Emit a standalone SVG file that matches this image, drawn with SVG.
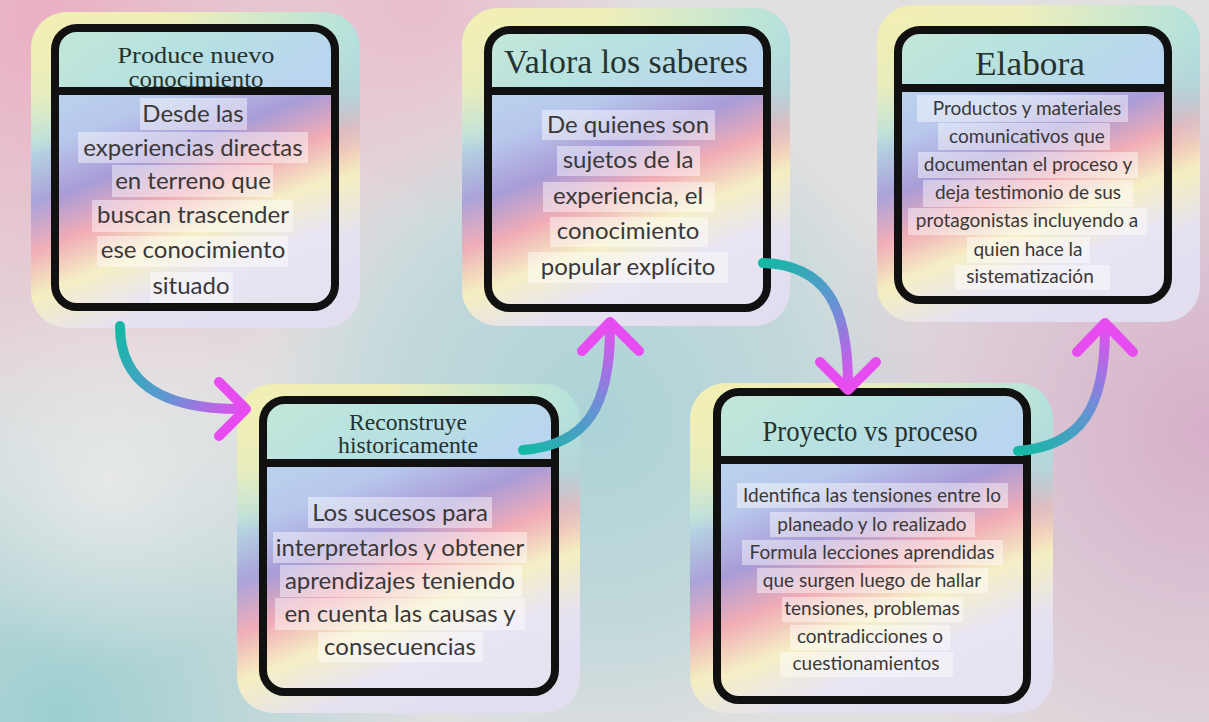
<svg xmlns="http://www.w3.org/2000/svg" width="1209" height="722" viewBox="0 0 1209 722">
<defs>
  <radialGradient id="bgPinkTL" cx="40" cy="20" r="430" gradientUnits="userSpaceOnUse">
    <stop offset="0" stop-color="#eab0c3"/>
    <stop offset="1" stop-color="#eab0c3" stop-opacity="0"/>
  </radialGradient>
  <radialGradient id="bgPinkT" cx="420" cy="0" r="220" gradientUnits="userSpaceOnUse">
    <stop offset="0" stop-color="#e9bccb"/>
    <stop offset="1" stop-color="#e9bccb" stop-opacity="0"/>
  </radialGradient>
  <radialGradient id="bgPinkR" cx="1209" cy="430" r="400" gradientUnits="userSpaceOnUse">
    <stop offset="0" stop-color="#d6afc8"/>
    <stop offset="1" stop-color="#d6afc8" stop-opacity="0"/>
  </radialGradient>
  <radialGradient id="bgTealBL" cx="60" cy="720" r="380" gradientUnits="userSpaceOnUse">
    <stop offset="0" stop-color="#9ccfd0"/>
    <stop offset="1" stop-color="#9ccfd0" stop-opacity="0"/>
  </radialGradient>
  <radialGradient id="bgTealC" cx="600" cy="420" r="340" gradientUnits="userSpaceOnUse">
    <stop offset="0" stop-color="#acd3d6"/>
    <stop offset="0.6" stop-color="#b4d5d8" stop-opacity="0.7"/>
    <stop offset="1" stop-color="#b4d5d8" stop-opacity="0"/>
  </radialGradient>
  <radialGradient id="bgWhite" cx="110" cy="480" r="190" gradientUnits="userSpaceOnUse">
    <stop offset="0" stop-color="#eeecec" stop-opacity="0.8"/>
    <stop offset="1" stop-color="#eeecec" stop-opacity="0"/>
  </radialGradient>
  <linearGradient id="gOuter" x1="0.3" y1="0" x2="0.7" y2="1">
    <stop offset="0" stop-color="#c9e8d6"/>
    <stop offset="0.25" stop-color="#b7dfe2"/>
    <stop offset="0.42" stop-color="#aaa3da"/>
    <stop offset="0.55" stop-color="#efadb8"/>
    <stop offset="0.68" stop-color="#f4efc0"/>
    <stop offset="0.84" stop-color="#e5e1f1"/>
    <stop offset="1" stop-color="#e2def0"/>
  </linearGradient>
  <linearGradient id="gTop" x1="0" y1="0" x2="1" y2="0">
    <stop offset="0" stop-color="#f3efb3"/>
    <stop offset="0.45" stop-color="#eeeeba"/>
    <stop offset="1" stop-color="#b3e2dc"/>
  </linearGradient>
  <linearGradient id="fadeG" x1="0" y1="0" x2="0" y2="1">
    <stop offset="0" stop-color="#fff"/>
    <stop offset="0.25" stop-color="#fff" stop-opacity="0.8"/>
    <stop offset="0.45" stop-color="#fff" stop-opacity="0"/>
  </linearGradient>
  <mask id="fade" maskContentUnits="objectBoundingBox">
    <rect x="0" y="0" width="1" height="1" fill="url(#fadeG)"/>
  </mask>
  <linearGradient id="gBody" x1="0.3" y1="0" x2="0.7" y2="1">
    <stop offset="0" stop-color="#bcd9ef"/>
    <stop offset="0.25" stop-color="#b8c8ec"/>
    <stop offset="0.42" stop-color="#a99cd7"/>
    <stop offset="0.56" stop-color="#f0acb6"/>
    <stop offset="0.7" stop-color="#f5efc6"/>
    <stop offset="0.85" stop-color="#e9e5f2"/>
    <stop offset="1" stop-color="#e6e2f0"/>
  </linearGradient>
  <linearGradient id="gTitle" x1="0" y1="0" x2="1" y2="0.3">
    <stop offset="0" stop-color="#c4e7d8"/>
    <stop offset="0.5" stop-color="#b7e2e0"/>
    <stop offset="1" stop-color="#bad5ee"/>
  </linearGradient>
  <linearGradient id="a1" gradientUnits="userSpaceOnUse" x1="120" y1="326" x2="246" y2="409">
    <stop offset="0" stop-color="#14b8a6"/><stop offset="0.5" stop-color="#5e97d2"/><stop offset="1" stop-color="#e84cf0"/>
  </linearGradient>
  <linearGradient id="a2" gradientUnits="userSpaceOnUse" x1="523" y1="450" x2="610" y2="322">
    <stop offset="0" stop-color="#14b8a6"/><stop offset="0.5" stop-color="#6a90d6"/><stop offset="1" stop-color="#e84cf0"/>
  </linearGradient>
  <linearGradient id="a3" gradientUnits="userSpaceOnUse" x1="763" y1="263" x2="848" y2="390">
    <stop offset="0" stop-color="#14b8a6"/><stop offset="0.5" stop-color="#6a90d6"/><stop offset="1" stop-color="#e84cf0"/>
  </linearGradient>
  <linearGradient id="a4" gradientUnits="userSpaceOnUse" x1="1018" y1="451" x2="1105" y2="323">
    <stop offset="0" stop-color="#14b8a6"/><stop offset="0.5" stop-color="#6a90d6"/><stop offset="1" stop-color="#e84cf0"/>
  </linearGradient>
  <style>
    .outer { fill: url(#gOuter); }
    .top { fill: url(#gTop); }
    .body { fill: url(#gBody); }
    .title { fill: url(#gTitle); }
    .frame { fill: none; stroke: #111; stroke-width: 8; }
    .div { stroke: #111; stroke-width: 8; }
    .hl { fill: #ffffff; fill-opacity: 0.45; }
    .t { font-family: "Liberation Serif", "DejaVu Serif", serif; fill: #24332f; text-anchor: middle; }
    .b { font-family: Lato, "Noto Sans", sans-serif; fill: #3a3838; text-anchor: middle; }
    .arr { fill: none; stroke-width: 10; stroke-linecap: round; stroke-linejoin: round; }
    .head { fill: none; stroke: #e64cf0; stroke-width: 10; stroke-linecap: round; stroke-linejoin: round; }
  </style>
</defs>

<g id="background">
  <rect width="1209" height="722" fill="#e1dfe0"/>
  <rect width="1209" height="722" fill="url(#bgTealC)"/>
  <rect width="1209" height="722" fill="url(#bgTealBL)"/>
  <rect width="1209" height="722" fill="url(#bgPinkR)"/>
  <rect width="1209" height="722" fill="url(#bgPinkTL)"/>
  <rect width="1209" height="722" fill="url(#bgPinkT)"/>
  <rect width="1209" height="722" fill="url(#bgWhite)"/>
</g>

<g id="node-produce">
  <rect class="outer" x="31" y="12" width="329" height="316" rx="36"/>
  <rect class="top" x="31" y="12" width="329" height="316" rx="36" mask="url(#fade)"/>
  <rect class="body" x="55" y="28" width="280" height="279" rx="22"/>
  <path class="title" d="M55,50 Q55,28 77,28 H313 Q335,28 335,50 V91 H55 Z"/>
  <rect class="hl" x="140" y="98" width="107" height="32"/>
  <rect class="hl" x="78" y="132" width="230" height="31"/>
  <rect class="hl" x="112" y="165" width="161" height="32"/>
  <rect class="hl" x="92" y="200" width="201" height="32"/>
  <rect class="hl" x="97" y="236" width="191" height="31"/>
  <rect class="hl" x="150" y="272" width="83" height="31"/>
  <text class="t" x="196" y="63" font-size="24" textLength="157" lengthAdjust="spacingAndGlyphs">Produce nuevo</text>
  <text class="t" x="196" y="87" font-size="24" textLength="135" lengthAdjust="spacingAndGlyphs">conocimiento</text>
  <text class="b" x="193" y="122" font-size="24">Desde las</text>
  <text class="b" x="193" y="156" font-size="24">experiencias directas</text>
  <text class="b" x="193" y="189" font-size="24">en terreno que</text>
  <text class="b" x="193" y="223" font-size="24">buscan trascender</text>
  <text class="b" x="193" y="258" font-size="24">ese conocimiento</text>
  <text class="b" x="191" y="294" font-size="24">situado</text>
  <rect class="frame" x="55" y="28" width="280" height="279" rx="22"/>
  <line class="div" x1="55" y1="91" x2="335" y2="91"/>
</g>

<g id="node-valora">
  <rect class="outer" x="462" y="8" width="328" height="318" rx="36"/>
  <rect class="top" x="462" y="8" width="328" height="318" rx="36" mask="url(#fade)"/>
  <rect class="body" x="488" y="30" width="279" height="278" rx="22"/>
  <path class="title" d="M488,52 Q488,30 510,30 H745 Q767,30 767,52 V91 H488 Z"/>
  <rect class="hl" x="542" y="110" width="173" height="30"/>
  <rect class="hl" x="557" y="146" width="143" height="30"/>
  <rect class="hl" x="543" y="182" width="172" height="30"/>
  <rect class="hl" x="550" y="217" width="158" height="30"/>
  <rect class="hl" x="528" y="252" width="200" height="31"/>
  <text class="t" x="626" y="73" font-size="34" textLength="244" lengthAdjust="spacingAndGlyphs">Valora los saberes</text>
  <text class="b" x="628" y="133" font-size="24">De quienes son</text>
  <text class="b" x="628" y="168" font-size="24">sujetos de la</text>
  <text class="b" x="628" y="204" font-size="24">experiencia, el</text>
  <text class="b" x="628" y="239" font-size="24">conocimiento</text>
  <text class="b" x="628" y="275" font-size="24">popular explícito</text>
  <rect class="frame" x="488" y="30" width="279" height="278" rx="22"/>
  <line class="div" x1="488" y1="91" x2="767" y2="91"/>
</g>

<g id="node-elabora">
  <rect class="outer" x="877" y="5" width="323" height="317" rx="36"/>
  <rect class="top" x="877" y="5" width="323" height="317" rx="36" mask="url(#fade)"/>
  <rect class="body" x="898" y="30" width="270" height="270" rx="22"/>
  <path class="title" d="M898,52 Q898,30 920,30 H1146 Q1168,30 1168,52 V88 H898 Z"/>
  <rect class="hl" x="917" y="95" width="211" height="27"/>
  <rect class="hl" x="938" y="123" width="172" height="27"/>
  <rect class="hl" x="918" y="152" width="220" height="26"/>
  <rect class="hl" x="923" y="180" width="210" height="27"/>
  <rect class="hl" x="908" y="208" width="239" height="27"/>
  <rect class="hl" x="967" y="237" width="123" height="26"/>
  <rect class="hl" x="955" y="265" width="155" height="25"/>
  <text class="t" x="1030" y="75" font-size="34" textLength="110" lengthAdjust="spacingAndGlyphs">Elabora</text>
  <text class="b" x="1027" y="115" font-size="19">Productos y materiales</text>
  <text class="b" x="1027" y="143" font-size="19">comunicativos que</text>
  <text class="b" x="1028" y="171" font-size="19">documentan el proceso y</text>
  <text class="b" x="1028" y="199" font-size="19">deja testimonio de sus</text>
  <text class="b" x="1027" y="227" font-size="19">protagonistas incluyendo a</text>
  <text class="b" x="1028" y="256" font-size="19">quien hace la</text>
  <text class="b" x="1030" y="283" font-size="19">sistematización</text>
  <rect class="frame" x="898" y="30" width="270" height="270" rx="22"/>
  <line class="div" x1="898" y1="88" x2="1168" y2="88"/>
</g>

<g id="node-reconstruye">
  <rect class="outer" x="237" y="384" width="343" height="329" rx="36"/>
  <rect class="top" x="237" y="384" width="343" height="329" rx="36" mask="url(#fade)"/>
  <rect class="body" x="263" y="400" width="292" height="292" rx="22"/>
  <path class="title" d="M263,422 Q263,400 285,400 H533 Q555,400 555,422 V463 H263 Z"/>
  <rect class="hl" x="308" y="497" width="184" height="31"/>
  <rect class="hl" x="273" y="532" width="254" height="31"/>
  <rect class="hl" x="280" y="565" width="242" height="32"/>
  <rect class="hl" x="275" y="598" width="250" height="32"/>
  <rect class="hl" x="318" y="632" width="165" height="30"/>
  <text class="t" x="408" y="430" font-size="23" textLength="118" lengthAdjust="spacingAndGlyphs">Reconstruye</text>
  <text class="t" x="408" y="453" font-size="23" textLength="140" lengthAdjust="spacingAndGlyphs">historicamente</text>
  <text class="b" x="400" y="521" font-size="24">Los sucesos para</text>
  <text class="b" x="400" y="556" font-size="24">interpretarlos y obtener</text>
  <text class="b" x="400" y="589" font-size="24">aprendizajes teniendo</text>
  <text class="b" x="400" y="622" font-size="24">en cuenta las causas y</text>
  <text class="b" x="400" y="655" font-size="24">consecuencias</text>
  <rect class="frame" x="263" y="400" width="292" height="292" rx="22"/>
  <line class="div" x1="263" y1="463" x2="555" y2="463"/>
</g>

<g id="node-proyecto">
  <rect class="outer" x="690" y="383" width="363" height="330" rx="36"/>
  <rect class="top" x="690" y="383" width="363" height="330" rx="36" mask="url(#fade)"/>
  <rect class="body" x="717" y="392" width="310" height="308" rx="22"/>
  <path class="title" d="M717,414 Q717,392 739,392 H1005 Q1027,392 1027,414 V460 H717 Z"/>
  <rect class="hl" x="737" y="483" width="271" height="25"/>
  <rect class="hl" x="770" y="512" width="205" height="25"/>
  <rect class="hl" x="742" y="540" width="261" height="25"/>
  <rect class="hl" x="757" y="568" width="231" height="25"/>
  <rect class="hl" x="782" y="597" width="181" height="25"/>
  <rect class="hl" x="790" y="625" width="160" height="25"/>
  <rect class="hl" x="780" y="652" width="173" height="25"/>
  <text class="t" x="870" y="441" font-size="29" textLength="215" lengthAdjust="spacingAndGlyphs">Proyecto vs proceso</text>
  <text class="b" x="872" y="502" font-size="19">Identifica las tensiones entre lo</text>
  <text class="b" x="872" y="531" font-size="19">planeado y lo realizado</text>
  <text class="b" x="872" y="559" font-size="19">Formula lecciones aprendidas</text>
  <text class="b" x="872" y="587" font-size="19">que surgen luego de hallar</text>
  <text class="b" x="872" y="615" font-size="19">tensiones, problemas</text>
  <text class="b" x="870" y="643" font-size="19">contradicciones o</text>
  <text class="b" x="866" y="670" font-size="19">cuestionamientos</text>
  <rect class="frame" x="717" y="392" width="310" height="308" rx="22"/>
  <line class="div" x1="717" y1="460" x2="1027" y2="460"/>
</g>

<g id="connectors">
  <path class="arr" stroke="url(#a1)" d="M120,326 C120,385 165,409 240,409"/>
  <path class="head" d="M219,382 L246,409 L219,436"/>
  <path class="arr" stroke="url(#a2)" d="M523,450 C588,445 610,405 610,328"/>
  <path class="head" d="M582,351 L610,322 L639,351"/>
  <path class="arr" stroke="url(#a3)" d="M763,263 C825,265 848,305 848,384"/>
  <path class="head" d="M820,362 L848,390 L876,362"/>
  <path class="arr" stroke="url(#a4)" d="M1018,451 C1080,446 1105,410 1105,329"/>
  <path class="head" d="M1077,352 L1105,323 L1133,352"/>
</g>
</svg>
